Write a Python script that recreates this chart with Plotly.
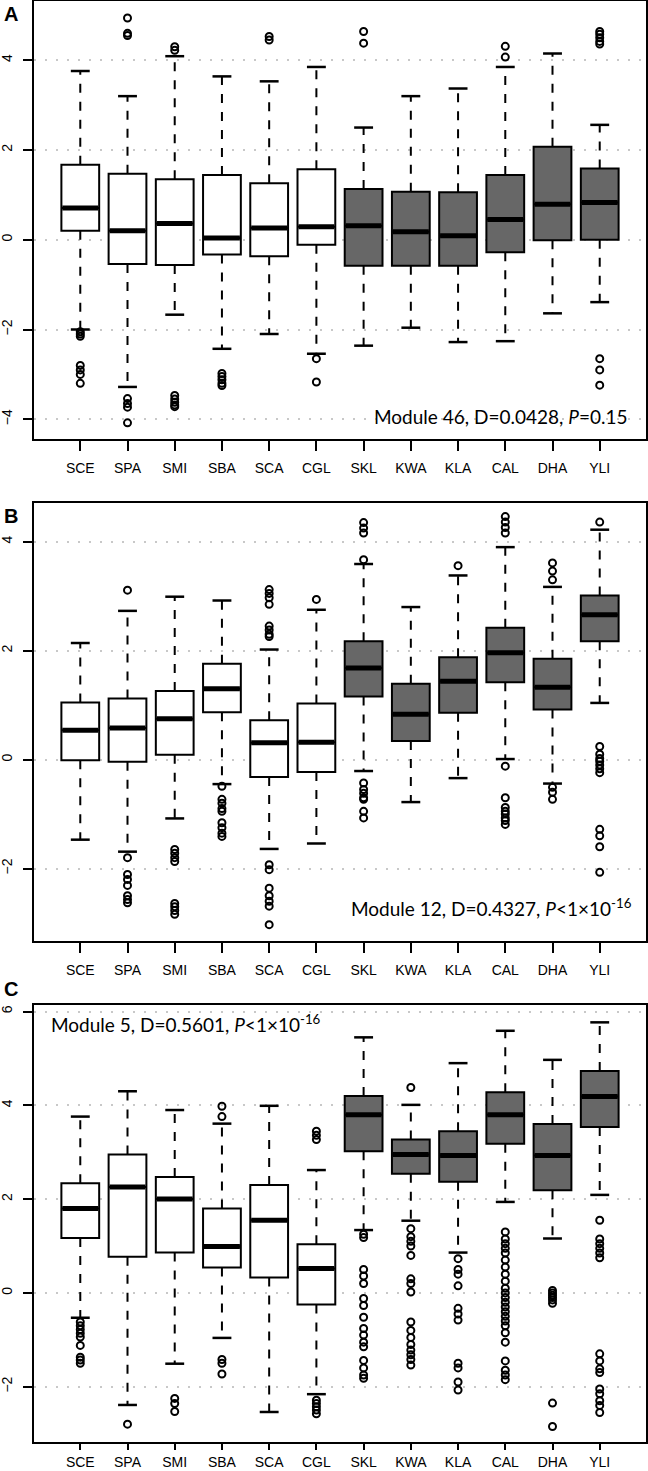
import plotly.graph_objects as go
from plotly.subplots import make_subplots

# Categorias (espécies) e estatísticas
CATEGORIES = ["SCE", "SPA", "SMI", "SBA", "SCA", "CGL", "SKL", "KWA", "KLA", "CAL", "DHA", "YLI"]
N_WHITE = 6  # os seis primeiros são caixas brancas, o resto cinza

# Painel A - Module 46
A_HI = [3.76, 3.2, 4.09, 3.64, 3.53, 3.85, 2.5, 3.2, 3.37, 3.85, 4.15, 2.56]
A_Q3 = [1.67, 1.47, 1.35, 1.44, 1.26, 1.57, 1.13, 1.07, 1.06, 1.44, 2.07, 1.59]
A_MED = [0.71, 0.2, 0.36, 0.04, 0.26, 0.29, 0.31, 0.18, 0.09, 0.45, 0.79, 0.83]
A_Q1 = [0.2, -0.54, -0.56, -0.33, -0.37, -0.11, -0.58, -0.58, -0.58, -0.28, -0.01, 0.0]
A_LO = [-2.0, -3.28, -1.67, -2.43, -2.1, -2.54, -2.36, -1.96, -2.28, -2.26, -1.64, -1.39]
A_OUT = [
    [-2.05, -2.1, -2.15, -2.8, -2.9, -3.0, -3.2],
    [4.94, 4.6, 4.55, -3.54, -3.65, -3.73, -4.08],
    [4.3, 4.22, -3.47, -3.55, -3.62, -3.68, -3.72],
    [-2.98, -3.05, -3.12, -3.2, -3.25],
    [4.53, 4.45],
    [-2.65, -3.17],
    [4.64, 4.38],
    [],
    [],
    [4.31, 4.07],
    [],
    [4.64, 4.58, 4.5, 4.42, 4.36, -2.65, -2.9, -3.24],
]

# Painel B - Module 12
B_HI = [2.14, 2.73, 2.99, 2.92, 2.02, 2.75, 3.59, 2.8, 3.38, 3.9, 3.17, 4.22]
B_Q3 = [1.05, 1.12, 1.26, 1.76, 0.72, 1.03, 2.17, 1.39, 1.88, 2.42, 1.85, 3.01]
B_MED = [0.54, 0.58, 0.75, 1.3, 0.31, 0.32, 1.68, 0.83, 1.44, 1.96, 1.33, 2.66]
B_Q1 = [-0.01, -0.04, 0.09, 0.87, -0.32, -0.23, 1.16, 0.34, 0.86, 1.42, 0.92, 2.17]
B_LO = [-1.47, -1.69, -1.08, -0.45, -1.64, -1.54, -0.21, -0.78, -0.34, 0.01, -0.44, 1.04]
B_OUT = [
    [],
    [3.11, -1.8, -2.11, -2.2, -2.31, -2.5, -2.57, -2.63],
    [-1.65, -1.72, -1.8, -1.87, -2.64, -2.7, -2.77, -2.84],
    [-0.49, -0.73, -0.8, -0.9, -0.95, -1.16, -1.25, -1.35, -1.41],
    [3.12, 3.05, 2.97, 2.85, 2.45, 2.38, 2.3, 2.26, -1.93, -2.02, -2.36, -2.5, -2.6, -2.69, -3.03],
    [2.94],
    [3.67, 4.35, 4.25, 4.16, -0.43, -0.55, -0.62, -0.7, -0.73, -0.95, -1.07],
    [],
    [3.56],
    [4.46, 4.36, 4.26, 4.16, -0.12, -0.7, -0.88, -0.95, -1.0, -1.07, -1.12, -1.19],
    [3.61, 3.46, 3.3, -0.51, -0.6, -0.73],
    [4.36, 0.24, 0.1, 0.02, -0.03, -0.1, -0.17, -0.24, -1.28, -1.4, -1.6, -2.07],
]

# Painel C - Module 5
C_HI = [3.76, 4.3, 3.9, 3.61, 3.99, 2.62, 5.45, 4.01, 4.9, 5.59, 4.97, 5.77]
C_Q3 = [2.34, 2.95, 2.47, 1.8, 2.3, 1.04, 4.2, 3.27, 3.45, 4.28, 3.6, 4.73]
C_MED = [1.8, 2.26, 2.0, 0.99, 1.55, 0.52, 3.8, 2.95, 2.93, 3.8, 2.93, 4.19]
C_Q1 = [1.17, 0.77, 0.86, 0.54, 0.33, -0.25, 3.02, 2.54, 2.37, 3.18, 2.19, 3.54]
C_LO = [-0.53, -2.39, -1.51, -0.96, -2.54, -2.16, 1.34, 1.54, 0.86, 1.94, 1.16, 2.09]
C_OUT = [
    [-0.62, -0.7, -0.78, -0.86, -0.94, -1.12, -1.37, -1.43, -1.5],
    [-2.8],
    [-2.25, -2.36, -2.53],
    [3.98, 3.76, -1.42, -1.5, -1.73],
    [],
    [3.45, 3.36, 3.27, -2.29, -2.36, -2.43, -2.5, -2.58],
    [1.25, 1.18, 0.5, 0.36, 0.2, -0.12, -0.27, -0.52, -0.76, -0.9, -1.05, -1.15, -1.44, -1.6, -1.75, -1.82],
    [4.38, 1.37, 1.2, 1.1, 1.0, 0.8, 0.3, 0.2, 0.02, -0.62, -0.8, -0.95, -1.1, -1.22, -1.32, -1.42, -1.54],
    [0.73, 0.5, 0.4, 0.15, -0.33, -0.45, -0.58, -1.5, -1.6, -1.9, -2.07],
    [1.3, 1.15, 1.05, 0.95, 0.85, 0.7, 0.55, 0.4, 0.25, 0.1, 0.0, -0.1, -0.2, -0.3, -0.4, -0.5,
     -0.6, -0.7, -0.85, -1.05, -1.45, -1.65, -1.75, -1.85],
    [0.05, 0.0, -0.05, -0.1, -0.15, -0.22, -2.35, -2.85],
    [1.55, 1.15, 1.05, 0.95, 0.85, 0.75, -1.3, -1.45, -1.62, -1.7, -2.05, -2.15, -2.3, -2.4, -2.55],
]

Y_RANGES = [[-4.44, 5.32], [-3.33, 4.71], [-3.18, 6.14]]
PANEL_LABELS = ["A", "B", "C"]
PANEL_TEXT = [
    "Module 46, D=0.0428, <i>P</i>=0.15",
    "Module 12, D=0.4327, <i>P</i>&lt;1×10<sup>-16</sup>",
    "Module 5, D=0.5601, <i>P</i>&lt;1×10<sup>-16</sup>",
]

W, H = 648, 1471
ML, MR = 34, 2
BOX_W = 0.8
CAP_W = 0.4
WHITE = "#ffffff"
GRAY = "#676767"
TICK_FONT = dict(family="Liberation Sans, Arial, sans-serif", size=14, color="black")
NOTE_FONT = dict(family="Lato, Open Sans, sans-serif", size=19, color="black")

# domínios em pixels (topo, base) de cada painel
PANEL_PX = [(1, 439), (503, 941), (1005, 1442)]
# posição vertical (px) das letras A, B, C
LABEL_Y = [14, 516, 989]
# tamanho do tick e afastamento do rótulo x em cada painel
X_TICKLEN = [10, 10, 6]
X_STANDOFF = [5, 5, 0]


def px_y(p):
    return 1 - p / H


def px_x(p):
    return (p - ML) / (W - ML - MR)


panels = [
    (A_HI, A_Q3, A_MED, A_Q1, A_LO, A_OUT),
    (B_HI, B_Q3, B_MED, B_Q1, B_LO, B_OUT),
    (C_HI, C_Q3, C_MED, C_Q1, C_LO, C_OUT),
]

fig = make_subplots(rows=3, cols=1)
pos = list(range(1, len(CATEGORIES) + 1))

for r, (hi, q3, med, q1, lo, out) in enumerate(panels, start=1):
    # caixas: brancas e cinzas
    for sl, col in [(slice(0, N_WHITE), WHITE), (slice(N_WHITE, None), GRAY)]:
        fig.add_trace(go.Box(
            x=pos[sl], q1=q1[sl], median=med[sl], q3=q3[sl],
            lowerfence=q1[sl], upperfence=q3[sl],
            width=BOX_W, fillcolor=col, whiskerwidth=0,
            line=dict(color="black", width=2),
            boxpoints=False, hoverinfo="skip", showlegend=False
        ), row=r, col=1)

    # bigodes tracejados
    wx, wy = [], []
    for i, p in enumerate(pos):
        wx += [p, p, None, p, p, None]
        wy += [q3[i], hi[i], None, q1[i], lo[i], None]
    fig.add_trace(go.Scatter(
        x=wx, y=wy, mode="lines", line=dict(color="black", width=2, dash="dash"),
        hoverinfo="skip", showlegend=False
    ), row=r, col=1)

    # hastes (caps) e medianas
    cx, cy, mx, my = [], [], [], []
    for i, p in enumerate(pos):
        cx += [p - CAP_W / 2, p + CAP_W / 2, None, p - CAP_W / 2, p + CAP_W / 2, None]
        cy += [hi[i], hi[i], None, lo[i], lo[i], None]
        mx += [p - BOX_W / 2 + 0.02, p + BOX_W / 2 - 0.02, None]
        my += [med[i], med[i], None]
    fig.add_trace(go.Scatter(
        x=cx, y=cy, mode="lines", line=dict(color="black", width=2.5),
        hoverinfo="skip", showlegend=False
    ), row=r, col=1)
    fig.add_trace(go.Scatter(
        x=mx, y=my, mode="lines", line=dict(color="black", width=5),
        hoverinfo="skip", showlegend=False
    ), row=r, col=1)

    # outliers
    ox, oy = [], []
    for i, p in enumerate(pos):
        ox += [p] * len(out[i])
        oy += out[i]
    fig.add_trace(go.Scatter(
        x=ox, y=oy, mode="markers",
        marker=dict(symbol="circle-open", size=7, color="black", line=dict(width=2)),
        hoverinfo="skip", showlegend=False
    ), row=r, col=1)

    top, bot = PANEL_PX[r - 1]
    axis_common = dict(
        showline=True, mirror=True, linecolor="black", linewidth=2,
        ticks="outside", tickcolor="black", tickwidth=2,
        tickfont=TICK_FONT, zeroline=False, automargin=False
    )
    fig.update_xaxes(
        range=[0.02, 12.98], tickvals=pos, ticktext=CATEGORIES,
        showgrid=False, ticklen=X_TICKLEN[r - 1], ticklabelstandoff=X_STANDOFF[r - 1],
        row=r, col=1, **axis_common
    )
    fig.update_yaxes(
        range=Y_RANGES[r - 1], dtick=2, tickangle=-90, ticklen=9,
        ticklabelstandoff=5,
        showgrid=True, gridcolor="#c8c8c8", gridwidth=2, griddash="2px,9px",
        domain=[px_y(bot), px_y(top)],
        row=r, col=1, **axis_common
    )

# rótulos dos painéis
for ly, lab in zip(LABEL_Y, PANEL_LABELS):
    fig.add_annotation(
        text=f"<b>{lab}</b>", xref="paper", yref="paper",
        x=px_x(11), y=px_y(ly), xanchor="center", yanchor="middle",
        showarrow=False, font=dict(family="Liberation Sans, Arial", size=20, color="black")
    )

# textos estatísticos
fig.add_annotation(text=PANEL_TEXT[0], xref="paper", yref="paper",
                   x=px_x(629), y=px_y(416), xanchor="right", yanchor="middle",
                   showarrow=False, font=NOTE_FONT)
fig.add_annotation(text=PANEL_TEXT[1], xref="paper", yref="paper",
                   x=px_x(634), y=px_y(922), xanchor="right", yanchor="bottom",
                   showarrow=False, font=NOTE_FONT)
fig.add_annotation(text=PANEL_TEXT[2], xref="paper", yref="paper",
                   x=px_x(49), y=px_y(1038), xanchor="left", yanchor="bottom",
                   showarrow=False, font=NOTE_FONT)

fig.update_layout(
    width=W, height=H,
    margin=dict(l=ML, r=MR, t=0, b=0),
    paper_bgcolor="white", plot_bgcolor="white",
    boxmode="overlay", showlegend=False
)

# sem margem do body para a figura ocupar a janela inteira
fig.write_html(
    "out.html",
    config={"displayModeBar": False},
    post_script="document.body.style.margin='0px';"
)
